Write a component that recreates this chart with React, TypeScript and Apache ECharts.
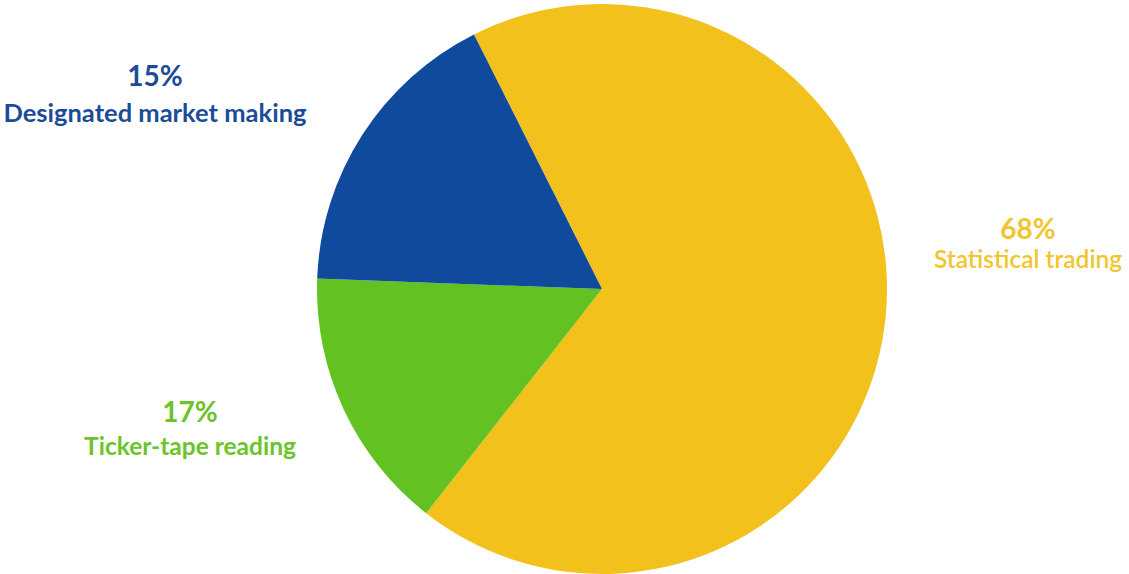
import React, { useEffect, useRef } from "react";
import * as echarts from "echarts";

const categories = ["Statistical trading", "Ticker-tape reading", "Designated market making"];
const sliceValues = [68, 15, 17];
const percentLabels = ["68%", "17%", "15%"];
const sliceColors = ["#F2C11C", "#63C222", "#0F4A9D"];
const textColors = ["#F0C52E", "#6BC42A", "#1B4C98"];
const labelCenters = [
  [1028, 243],
  [190, 428],
  [155, 93],
];
const nameSizes = [24.5, 24.5, 25.5];
const pctSizes = [28, 28, 28];
const nameWeights = ["600", "bold", "bold"];
const lineGaps = [30, 35, 37];

export default function App() {
  const ref = useRef<HTMLDivElement>(null);
  useEffect(() => {
    if (!ref.current) return;
    const chart = echarts.init(ref.current, undefined, { renderer: "svg" });
    const data = categories.map((name, i) => ({
      name,
      value: sliceValues[i],
      itemStyle: { color: sliceColors[i] },
      label: {
        show: true,
        formatter: `{p|${percentLabels[i]}}\n{n|${name}}`,
        rich: {
          p: {
            fontFamily: "Lato",
            fontWeight: "bold",
            fontSize: pctSizes[i],
            color: textColors[i],
            lineHeight: lineGaps[i],
            align: "center",
          },
          n: {
            fontFamily: "Lato",
            fontWeight: nameWeights[i],
            fontSize: nameSizes[i],
            color: textColors[i],
            lineHeight: lineGaps[i],
            align: "center",
          },
        },
      },
    }));
    chart.setOption({
      animation: false,
      backgroundColor: "#ffffff",
      series: [
        {
          type: "pie",
          center: [602, 289],
          radius: 285,
          startAngle: 116.7,
          clockwise: true,
          avoidLabelOverlap: false,
          labelLine: { show: false },
          emphasis: { disabled: true },
          label: { position: "outside" },
          labelLayout: (params: any) => ({
            x: labelCenters[params.dataIndex][0],
            y: labelCenters[params.dataIndex][1],
            align: "center",
            verticalAlign: "middle",
          }),
          data,
        },
      ],
    });
    return () => chart.dispose();
  }, []);
  return (
    <div
      ref={ref}
      style={{ position: "absolute", left: 0, top: 0, width: 1129, height: 574 }}
    />
  );
}
